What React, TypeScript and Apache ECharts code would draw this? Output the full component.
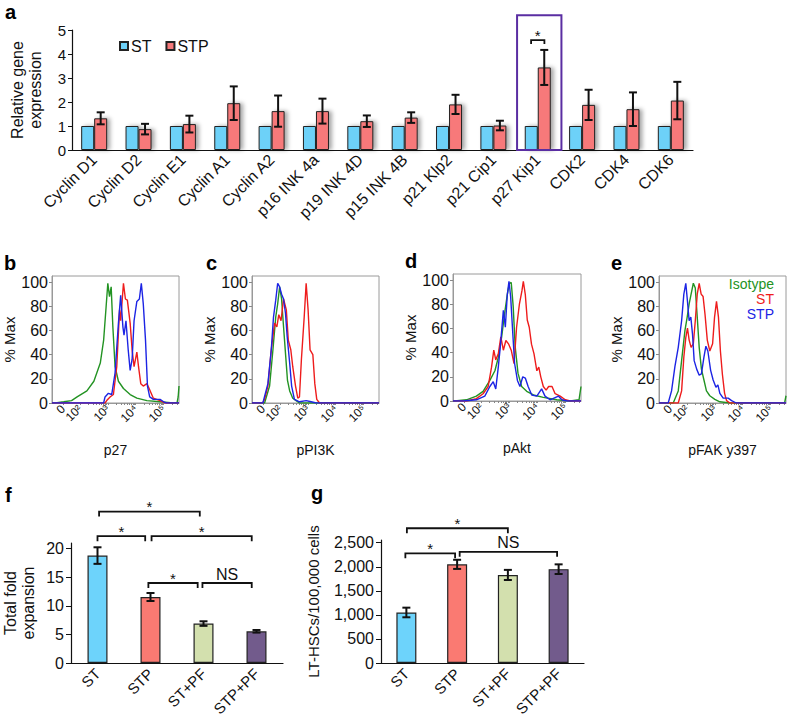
import { useEffect, useRef } from 'react';
import * as echarts from 'echarts';

// ---------- Panel a ----------
const genes = ['Cyclin D1', 'Cyclin D2', 'Cyclin E1', 'Cyclin A1', 'Cyclin A2', 'p16 INK 4a', 'p19 INK 4D', 'p15 INK 4B', 'p21 Klp2', 'p21 Cip1', 'p27 Kip1', 'CDK2', 'CDK4', 'CDK6'];
const stExpr = [1, 1, 1, 1, 1, 1, 1, 1, 1, 1, 1, 1, 1, 1];
const stpExpr = [1.32, 0.87, 1.08, 1.95, 1.62, 1.62, 1.2, 1.35, 1.9, 1.02, 3.44, 1.88, 1.7, 2.06];
const stpErr = [0.25, 0.22, 0.35, 0.7, 0.65, 0.52, 0.24, 0.22, 0.4, 0.2, 0.73, 0.63, 0.7, 0.78];
const aBrStart = [9.85];
const aBrEnd = [10.15];
const aBrLevel = [4.58];
const aBrLabel = ['*'];
const aBoxCat = 10;
const aBoxTop = 5.61;

// ---------- Panels b-e (flow histograms: x in display decades, y in % Max) ----------
const flowTickPos = [1.4, 2, 3, 4, 5];
const flowTickText = ['0', '10²', '10³', '10⁴', '10⁵'];
const flowMinorMult = [1, 2, 3, 4, 5, 6, 7, 8, 9];
const pctTicks = [0, 20, 40, 60, 80, 100];

const p27Iso = [[1.0, 0], [1.12, 0], [1.42, 1], [1.7, 2], [1.9, 5], [2.25, 10], [2.5, 18], [2.73, 33], [2.85, 52], [2.94, 80], [3.0, 99], [3.06, 88], [3.12, 96], [3.18, 63], [3.26, 30], [3.38, 18], [3.56, 12], [3.8, 7], [4.04, 4], [4.4, 2], [4.87, 1], [5.35, 0], [5.48, 0], [5.52, 5], [5.55, 14]];
const p27ST = [[1.0, 0], [2.9, 0], [2.96, 2], [3.08, 5], [3.2, 7], [3.32, 30], [3.42, 77], [3.46, 68], [3.56, 99], [3.63, 86], [3.7, 85], [3.8, 66], [3.87, 44], [3.94, 30], [4.04, 42], [4.1, 30], [4.18, 16], [4.27, 14], [4.4, 16], [4.5, 11], [4.63, 4], [4.87, 2], [5.05, 0], [5.55, 0]];
const p27STP = [[1.0, 0], [2.85, 0], [2.9, 5], [3.02, 8], [3.14, 7], [3.26, 25], [3.38, 66], [3.46, 89], [3.54, 63], [3.58, 56], [3.65, 68], [3.73, 44], [3.8, 27], [3.87, 36], [3.94, 68], [4.04, 84], [4.13, 86], [4.2, 99], [4.27, 82], [4.35, 52], [4.42, 14], [4.5, 5], [4.63, 3], [4.87, 3], [5.0, 1], [5.1, 0], [5.55, 0]];

const pi3kIso = [[1.0, 0], [1.45, 0], [1.63, 14], [1.75, 44], [1.85, 71], [1.92, 82], [1.99, 96], [2.06, 86], [2.13, 63], [2.2, 41], [2.27, 19], [2.35, 10], [2.46, 4], [2.58, 2], [2.7, 0], [5.55, 0]];
const pi3kST = [[1.0, 0], [1.38, 0], [1.45, 3], [1.57, 14], [1.69, 44], [1.81, 66], [1.89, 63], [1.96, 73], [2.04, 68], [2.13, 86], [2.23, 77], [2.3, 52], [2.39, 44], [2.46, 30], [2.56, 14], [2.64, 4], [2.7, 5], [2.77, 36], [2.87, 71], [2.94, 99], [3.01, 77], [3.08, 44], [3.18, 40], [3.25, 16], [3.32, 3], [3.42, 0], [5.55, 0]];
const pi3kSTP = [[1.0, 0], [1.39, 0], [1.57, 16], [1.69, 44], [1.77, 71], [1.85, 85], [1.92, 99], [1.99, 96], [2.06, 90], [2.13, 86], [2.2, 74], [2.26, 55], [2.35, 33], [2.42, 14], [2.52, 3], [2.7, 1], [2.94, 2], [3.12, 1], [3.3, 0], [5.55, 0]];

const aktIso = [[1.0, 0], [1.06, 0], [1.48, 1], [1.83, 4], [2.07, 8], [2.31, 17], [2.49, 25], [2.61, 36], [2.73, 53], [2.85, 75], [2.93, 88], [3.0, 97], [3.07, 98], [3.14, 78], [3.21, 45], [3.31, 23], [3.44, 12], [3.62, 8], [3.86, 5], [4.21, 3], [4.69, 1], [5.17, 0], [5.48, 1], [5.55, 12]];
const aktST = [[1.0, 0], [1.48, 0], [1.83, 2], [2.07, 6], [2.25, 12], [2.37, 28], [2.45, 42], [2.52, 34], [2.61, 39], [2.7, 53], [2.79, 42], [2.88, 50], [2.98, 47], [3.07, 42], [3.17, 31], [3.26, 61], [3.36, 80], [3.45, 91], [3.5, 99], [3.57, 88], [3.64, 67], [3.71, 61], [3.79, 47], [3.88, 39], [3.98, 25], [4.05, 28], [4.12, 20], [4.21, 12], [4.31, 9], [4.4, 12], [4.52, 12], [4.63, 6], [4.81, 4], [4.99, 1], [5.17, 0], [5.55, 0]];
const aktSTP = [[1.0, 0], [1.36, 0], [1.83, 1], [2.13, 4], [2.31, 12], [2.43, 16], [2.52, 10], [2.61, 28], [2.69, 47], [2.79, 75], [2.86, 61], [2.93, 88], [2.99, 99], [3.05, 86], [3.12, 58], [3.19, 31], [3.29, 17], [3.38, 12], [3.48, 20], [3.57, 19], [3.67, 12], [3.8, 5], [3.98, 4], [4.15, 10], [4.27, 4], [4.45, 1], [4.75, 4], [4.87, 1], [5.05, 0], [5.55, 0]];

const fakIso = [[1.0, 0], [1.51, 0], [1.69, 10], [1.81, 35], [1.93, 60], [2.01, 71], [2.08, 82], [2.15, 90], [2.23, 99], [2.3, 95], [2.37, 71], [2.44, 46], [2.52, 28], [2.61, 19], [2.7, 10], [2.82, 6], [3.0, 3], [3.18, 1], [3.54, 0], [5.5, 0], [5.55, 6]];
const fakST = [[1.0, 0], [1.69, 0], [1.81, 10], [1.89, 38], [1.96, 54], [2.02, 62], [2.08, 52], [2.15, 46], [2.23, 49], [2.3, 68], [2.37, 90], [2.44, 99], [2.51, 90], [2.58, 88], [2.65, 73], [2.73, 52], [2.82, 43], [2.92, 49], [2.99, 71], [3.06, 84], [3.13, 71], [3.2, 43], [3.27, 24], [3.35, 8], [3.42, 2], [3.54, 0], [5.55, 0]];
const fakSTP = [[1.0, 0], [1.33, 0], [1.45, 10], [1.57, 30], [1.69, 46], [1.81, 68], [1.89, 90], [1.96, 99], [2.02, 84], [2.08, 68], [2.14, 71], [2.2, 57], [2.26, 35], [2.35, 28], [2.44, 23], [2.52, 24], [2.61, 38], [2.68, 47], [2.75, 43], [2.85, 27], [2.94, 19], [3.04, 13], [3.11, 15], [3.18, 8], [3.3, 4], [3.48, 4], [3.6, 2], [3.77, 0], [5.55, 0]];

// ---------- Panels f, g ----------
const groups = ['ST', 'STP', 'ST+PF', 'STP+PF'];
const foldMean = [18.8, 11.55, 6.9, 5.55];
const foldErr = [1.45, 0.7, 0.4, 0.23];
const foldTicks = [0, 5, 10, 15, 20];
const foldBrStart = [0.03, 0, 1.02, 0.96, 1.98];
const foldBrEnd = [1.93, 0.9, 2.91, 1.89, 2.91];
const foldBrLevel = [26.5, 22.2, 22.2, 14.0, 14.0];
const foldBrLabel = ['*', '*', '*', '*', 'NS'];

const hscMean = [1050, 2050, 1830, 1950];
const hscErr = [100, 95, 105, 100];
const hscTicks = [0, 500, 1000, 1500, 2000, 2500];
const hscBrStart = [0.01, -0.02, 1.05];
const hscBrEnd = [2.0, 0.96, 2.97];
const hscBrLevel = [2800, 2280, 2310];
const hscBrLabel = ['*', '*', 'NS'];

const FONT = "'Liberation Sans', Arial, Helvetica, sans-serif";
const C_ST = '#6dd1f8';
const C_STP = '#f7797a';
const groupColors = ['#6dd3fb', '#fa7a72', '#d3e0ae', '#725b8c'];
const C_ISO = '#239323';
const C_RED = '#ee1c1c';
const C_BLUE = '#1c24e4';

function errorBars(ai: number, means: number[], errs: number[], offset: number, cap: number, lw: number) {
  return {
    type: 'custom', xAxisIndex: ai, yAxisIndex: ai, z: 5, silent: true,
    data: means.map((m, i) => [i, m, errs[i]]),
    encode: { x: 0, y: 1 },
    renderItem: (_p: any, api: any) => {
      const i = api.value(0), m = api.value(1), e = api.value(2);
      const t = api.coord([i, m + e]);
      const b = api.coord([i, m - e]);
      const x = t[0] + offset;
      const st = { stroke: '#111', lineWidth: lw };
      return {
        type: 'group', children: [
          { type: 'line', shape: { x1: x, y1: t[1], x2: x, y2: b[1] }, style: st },
          { type: 'line', shape: { x1: x - cap, y1: t[1], x2: x + cap, y2: t[1] }, style: st },
          { type: 'line', shape: { x1: x - cap, y1: b[1], x2: x + cap, y2: b[1] }, style: st },
        ],
      };
    },
  };
}

function brackets(ai: number, starts: number[], ends: number[], levels: number[], labels: string[], leg: number, starSize: number) {
  return {
    type: 'custom', xAxisIndex: ai, yAxisIndex: ai, z: 6, silent: true, clip: false,
    data: levels.map((l) => [0, l]),
    encode: { x: 0, y: 1 },
    renderItem: (params: any, api: any) => {
      const k = params.dataIndex;
      const lv = api.value(1);
      const band = api.size([1, 0])[0];
      const px = (c: number) => {
        const i = Math.max(0, Math.round(c));
        return api.coord([i, lv])[0] + (c - i) * band;
      };
      const y = api.coord([0, lv])[1];
      const x1 = px(starts[k]);
      const x2 = px(ends[k]);
      const star = labels[k] === '*';
      return {
        type: 'group', children: [
          { type: 'polyline', shape: { points: [[x1, y + leg], [x1, y], [x2, y], [x2, y + leg]] }, style: { stroke: '#111', lineWidth: 1.8, fill: null } },
          {
            type: 'text', x: (x1 + x2) / 2, y: star ? y - 5 : y - 1,
            style: { text: labels[k], fill: '#111', font: `${star ? starSize : 16}px ${FONT}`, align: 'center', verticalAlign: star ? 'middle' : 'bottom' },
          },
        ],
      };
    },
  };
}

function flowX(gi: number, name: string) {
  const minor: number[] = [];
  for (let k = 2; k <= 5; k++) flowMinorMult.forEach((m) => { const v = k + Math.log10(m); if (v <= 5.55) minor.push(v); });
  return {
    type: 'value', gridIndex: gi, min: 1, max: 5.55, name, nameLocation: 'middle', nameGap: 40,
    nameTextStyle: { fontSize: 14, color: '#111', fontFamily: FONT },
    axisLine: { lineStyle: { color: '#999' } },
    axisTick: { customValues: [1.4, ...minor], length: 2, lineStyle: { color: '#888' } },
    axisLabel: {
      customValues: flowTickPos, rotate: 45, fontSize: 12, margin: 4, color: '#111', hideOverlap: false,
      formatter: (v: number) => { const i = flowTickPos.findIndex((p) => Math.abs(p - v) < 1e-6); return i >= 0 ? flowTickText[i] : ''; },
    },
    splitLine: { show: false },
  };
}

function flowY(gi: number) {
  return {
    type: 'value', gridIndex: gi, min: 0, max: 105, name: '% Max', nameLocation: 'middle', nameGap: 32, nameRotate: 90,
    nameTextStyle: { fontSize: 15, color: '#111', fontFamily: FONT },
    axisLine: { show: true, lineStyle: { color: '#999' } },
    axisTick: { show: true, customValues: pctTicks, length: 3, lineStyle: { color: '#888' } },
    axisLabel: { customValues: pctTicks, fontSize: 16, margin: 4, color: '#111' },
    splitLine: { show: false },
  };
}

function hist(gi: number, name: string, data: number[][], color: string) {
  return {
    type: 'line', name, xAxisIndex: gi, yAxisIndex: gi, data, showSymbol: false, symbol: 'none',
    lineStyle: { color, width: 1.4 }, itemStyle: { color }, z: 3, silent: true,
  };
}

const panelLabel = (text: string, x: number, y: number) => ({
  type: 'text', x, y, style: { text, font: `bold 20px ${FONT}`, fill: '#000', verticalAlign: 'middle' },
});

export default function App() {
  const ref = useRef<HTMLDivElement>(null);
  useEffect(() => {
    if (!ref.current) return;
    const chart = echarts.init(ref.current, undefined, { renderer: 'svg' });
    const flowGrid = { show: true, borderColor: '#9a9a9a', borderWidth: 1, backgroundColor: 'transparent' };
    const option: any = {
      animation: false,
      backgroundColor: '#fff',
      textStyle: { fontFamily: FONT },
      grid: [
        { left: 62, top: 30, width: 631, height: 120 },
        { left: 52, top: 276, width: 127, height: 127, ...flowGrid },
        { left: 252, top: 276, width: 127, height: 127, ...flowGrid },
        { left: 453, top: 274, width: 128, height: 127, ...flowGrid },
        { left: 659, top: 276, width: 127, height: 127, ...flowGrid },
        { left: 68, top: 543, width: 215, height: 120 },
        { left: 381, top: 540, width: 203, height: 123 },
      ],
      legend: [
        {
          data: ['ST', 'STP'], left: 114, top: 33, itemWidth: 8, itemHeight: 8, itemGap: 14, icon: 'rect',
          textStyle: { fontSize: 16, color: '#111', fontFamily: FONT, padding: [0, 0, 0, -2] },
        },
        {
          data: [
            { name: 'Isotype', textStyle: { color: C_ISO } },
            { name: 'ST', textStyle: { color: C_RED } },
            { name: 'STP', textStyle: { color: C_BLUE } },
          ],
          orient: 'vertical', right: 4, top: 271, icon: 'none', itemWidth: 0, itemGap: 0, align: 'right',
          textStyle: { fontSize: 14, fontFamily: FONT, lineHeight: 15 },
        },
      ],
      xAxis: [
        {
          type: 'category', gridIndex: 0, data: genes,
          axisLine: { lineStyle: { color: '#111', width: 1.2 } },
          axisTick: { length: 5, lineStyle: { color: '#111' } },
          axisLabel: { rotate: 45, interval: 0, fontSize: 16, color: '#111', margin: 7 },
        },
        flowX(1, 'p27'), flowX(2, 'pPI3K'), flowX(3, 'pAkt'), flowX(4, 'pFAK y397'),
        {
          type: 'category', gridIndex: 5, data: groups,
          axisLine: { lineStyle: { color: '#111', width: 1.2 } },
          axisTick: { length: 5, lineStyle: { color: '#111' } },
          axisLabel: { rotate: 45, interval: 0, fontSize: 15, color: '#111', margin: 8 },
        },
        {
          type: 'category', gridIndex: 6, data: groups,
          axisLine: { lineStyle: { color: '#111', width: 1.2 } },
          axisTick: { length: 5, lineStyle: { color: '#111' } },
          axisLabel: { rotate: 45, interval: 0, fontSize: 15, color: '#111', margin: 8 },
        },
      ],
      yAxis: [
        {
          type: 'value', gridIndex: 0, min: 0, max: 5, interval: 1,
          name: 'Relative gene\nexpression', nameLocation: 'middle', nameGap: 28, nameRotate: 90,
          nameTextStyle: { fontSize: 16, color: '#111', lineHeight: 18 },
          axisLine: { show: true, lineStyle: { color: '#111', width: 1.2 } },
          axisTick: { show: true, length: 4, lineStyle: { color: '#111' } },
          axisLabel: { fontSize: 15, color: '#111', margin: 6 },
          splitLine: { show: false },
        },
        flowY(1), flowY(2), flowY(3), flowY(4),
        {
          type: 'value', gridIndex: 5, min: 0, max: 21,
          name: 'Total fold\nexpansion', nameLocation: 'middle', nameGap: 34, nameRotate: 90,
          nameTextStyle: { fontSize: 16, color: '#111', lineHeight: 18 },
          axisLine: { show: true, lineStyle: { color: '#111', width: 1.2 } },
          axisTick: { show: true, customValues: foldTicks, length: 5, lineStyle: { color: '#111' } },
          axisLabel: { customValues: foldTicks, fontSize: 16, color: '#111', margin: 7 },
          splitLine: { show: false },
        },
        {
          type: 'value', gridIndex: 6, min: 0, max: 2556,
          name: 'LT-HSCs/100,000 cells', nameLocation: 'middle', nameGap: 60, nameRotate: 90,
          nameTextStyle: { fontSize: 15, color: '#111' },
          axisLine: { show: true, lineStyle: { color: '#111', width: 1.2 } },
          axisTick: { show: true, customValues: hscTicks, length: 5, lineStyle: { color: '#111' } },
          axisLabel: { customValues: hscTicks, fontSize: 16, color: '#111', margin: 7, formatter: (v: number) => v.toLocaleString('en-US') },
          splitLine: { show: false },
        },
      ],
      series: [
        {
          type: 'bar', name: 'ST', xAxisIndex: 0, yAxisIndex: 0, data: stExpr, barWidth: 13, barGap: '0%',
          itemStyle: { color: C_ST, borderColor: '#222', borderWidth: 1, shadowColor: 'rgba(0,0,0,0.35)', shadowBlur: 4, shadowOffsetX: 3 },
        },
        {
          type: 'bar', name: 'STP', xAxisIndex: 0, yAxisIndex: 0, data: stpExpr, barWidth: 13, barGap: '0%',
          itemStyle: { color: C_STP, borderColor: '#222', borderWidth: 1, shadowColor: 'rgba(0,0,0,0.35)', shadowBlur: 4, shadowOffsetX: 3 },
        },
        errorBars(0, stpExpr, stpErr, 6.5, 4, 2),
        brackets(0, aBrStart, aBrEnd, aBrLevel, aBrLabel, 4, 15),
        {
          type: 'custom', xAxisIndex: 0, yAxisIndex: 0, z: 7, silent: true, clip: false,
          data: [[aBoxCat, aBoxTop]], encode: { x: 0, y: 1 },
          renderItem: (_p: any, api: any) => {
            const band = api.size([1, 0])[0];
            const top = api.coord([api.value(0), api.value(1)]);
            const bot = api.coord([api.value(0), 0]);
            return {
              type: 'rect', shape: { x: top[0] - band / 2 + 1.5, y: top[1], width: band, height: bot[1] - top[1] },
              style: { fill: null, stroke: '#5a2ea2', lineWidth: 2 },
            };
          },
        },
        hist(1, 'Isotype', p27Iso, C_ISO), hist(1, 'ST', p27ST, C_RED), hist(1, 'STP', p27STP, C_BLUE),
        hist(2, 'Isotype', pi3kIso, C_ISO), hist(2, 'ST', pi3kST, C_RED), hist(2, 'STP', pi3kSTP, C_BLUE),
        hist(3, 'Isotype', aktIso, C_ISO), hist(3, 'ST', aktST, C_RED), hist(3, 'STP', aktSTP, C_BLUE),
        hist(4, 'Isotype', fakIso, C_ISO), hist(4, 'ST', fakST, C_RED), hist(4, 'STP', fakSTP, C_BLUE),
        {
          type: 'bar', name: 'fold', xAxisIndex: 5, yAxisIndex: 5, barWidth: 20,
          data: foldMean.map((v, i) => ({ value: v, itemStyle: { color: groupColors[i] } })),
          itemStyle: { borderColor: '#222', borderWidth: 1.2 },
        },
        errorBars(5, foldMean, foldErr, 0, 4, 2),
        brackets(5, foldBrStart, foldBrEnd, foldBrLevel, foldBrLabel, 5, 15),
        {
          type: 'bar', name: 'hsc', xAxisIndex: 6, yAxisIndex: 6, barWidth: 20,
          data: hscMean.map((v, i) => ({ value: v, itemStyle: { color: groupColors[i] } })),
          itemStyle: { borderColor: '#222', borderWidth: 1.2 },
        },
        errorBars(6, hscMean, hscErr, 0, 4, 2),
        brackets(6, hscBrStart, hscBrEnd, hscBrLevel, hscBrLabel, 5, 15),
      ],
      graphic: [
        panelLabel('a', 5, 12),
        panelLabel('b', 4, 263),
        panelLabel('c', 206, 263),
        panelLabel('d', 405, 261),
        panelLabel('e', 611, 263),
        panelLabel('f', 5, 495),
        panelLabel('g', 311, 493),
      ],
    };
    chart.setOption(option);
    return () => chart.dispose();
  }, []);
  return <div ref={ref} style={{ position: 'absolute', left: 0, top: 0, width: 788, height: 720, background: '#fff' }} />;
}
